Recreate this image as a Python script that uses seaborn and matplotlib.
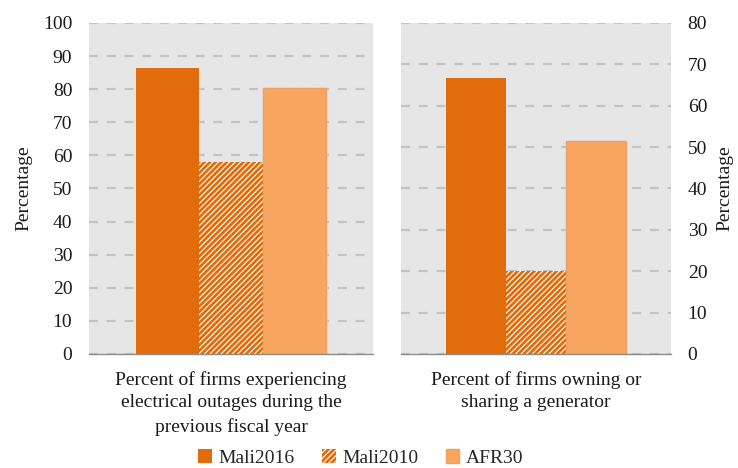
import matplotlib
matplotlib.use("Agg")
import matplotlib.pyplot as plt
import seaborn as sns
import pandas as pd
from matplotlib.patches import Patch
from matplotlib.ticker import FixedLocator

series = ["Mali2016", "Mali2010", "AFR30"]
cat_left = "Percent of firms experiencing\nelectrical outages during the\nprevious fiscal year"
cat_right = "Percent of firms owning or\nsharing a generator"
vals_left = [86.4, 58.1, 80.3]
vals_right = [66.6, 20.0, 51.5]
left_ticks = list(range(0, 101, 10))
right_ticks = list(range(0, 81, 10))

colors = {"Mali2016": "#E36C0A", "Mali2010": "#FFFFFF", "AFR30": "#F8A65F"}
orange = "#E36C0A"
FS = 14

sns.set_theme(style="white")
plt.rcParams["font.family"] = ["Liberation Serif", "DejaVu Serif"]
plt.rcParams["hatch.linewidth"] = 2.0
plt.rcParams["hatch.color"] = orange

fig = plt.figure(figsize=(7.38, 4.68), dpi=100)
axL = fig.add_axes([89/738, 1-354/468, 284/738, 331/468])
axR = fig.add_axes([401/738, 1-354/468, 270/738, 331/468])

dfL = pd.DataFrame({"cat": [cat_left]*3, "series": series, "val": vals_left})
dfR = pd.DataFrame({"cat": [cat_right]*3, "series": series, "val": vals_right})

for ax, df, ticks in [(axL, dfL, left_ticks), (axR, dfR, right_ticks)]:
    sns.barplot(data=df, x="cat", y="val", hue="series", hue_order=series,
                palette=colors, width=0.67, ax=ax, legend=False,
                saturation=1, linewidth=0)
    ax.set_facecolor("#E6E6E6")
    for i, p in enumerate(ax.patches):
        name = series[i % 3]
        if name == "Mali2010":
            p.set_facecolor("white")
            p.set_edgecolor(orange)
            p.set_hatch("//////")
            p.set_linewidth(0)
        elif name == "AFR30":
            p.set_edgecolor("#F0A060")
            p.set_linewidth(1)
    ax.set_xlim(-0.5, 0.5)
    ax.set_ylim(0, ticks[-1])
    ax.set_yticks(ticks)
    ax.yaxis.grid(True, linestyle=(0, (4, 4)), color="#C3C3C3", linewidth=1.6)
    ax.set_axisbelow(True)
    for s in ["top", "left", "right"]:
        ax.spines[s].set_visible(False)
    ax.spines["bottom"].set_color("#8C8C8C")
    ax.spines["bottom"].set_linewidth(1)
    ax.xaxis.set_minor_locator(FixedLocator([-0.5, 0.5]))
    ax.tick_params(axis="x", which="major", length=0, labelsize=FS, pad=12, colors="#1a1a1a")
    ax.tick_params(axis="x", which="minor", length=4, width=1, color="#8C8C8C", direction="out")
    ax.tick_params(axis="y", length=0, labelsize=FS, colors="#1a1a1a", pad=12)
    ax.set_xlabel("")
    for lbl in ax.get_xticklabels():
        lbl.set_multialignment("center")
        lbl.set_linespacing(1.45)

axL.set_ylabel("Percentage", fontsize=FS, color="#1a1a1a")
axL.yaxis.set_label_coords(-0.2, 0.5)
axR.yaxis.tick_right()
axR.yaxis.set_label_position("right")
axR.tick_params(axis="y", pad=12)
axR.set_ylabel("Percentage", fontsize=FS, color="#1a1a1a", rotation=90)
axR.yaxis.set_label_coords(1.167, 0.5)

handles = [Patch(facecolor=orange, edgecolor=orange, linewidth=0),
           Patch(facecolor="white", edgecolor=orange, hatch="//////", linewidth=0),
           Patch(facecolor="#F8A65F", edgecolor="#F0A060", linewidth=1)]
fig.legend(handles, series, loc="center", bbox_to_anchor=(361/738, 1-458/468),
           ncol=3, frameon=False, fontsize=FS, handlelength=0.7, handleheight=0.7,
           handletextpad=0.35, columnspacing=1.4)

fig.savefig("out.png", dpi=100)
